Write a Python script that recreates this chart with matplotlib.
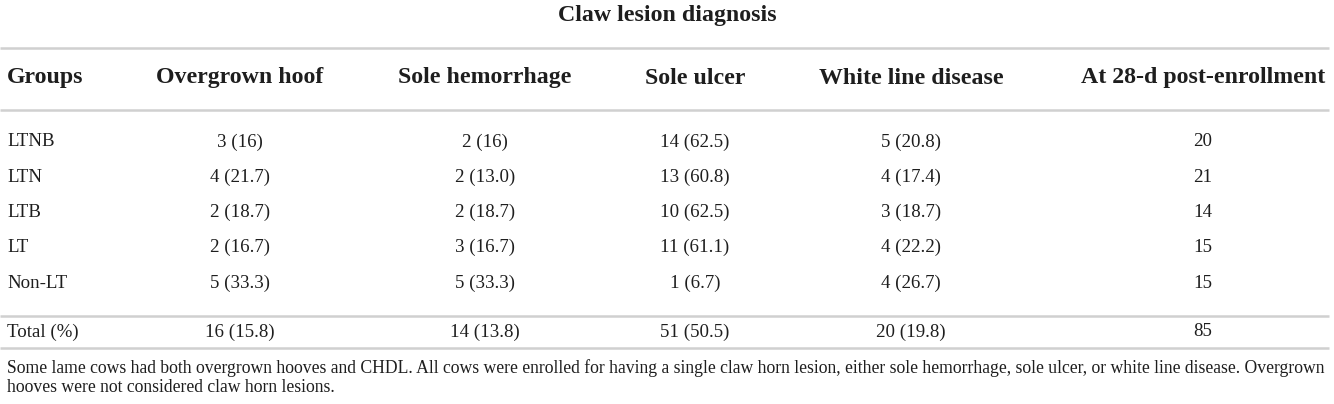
import matplotlib
matplotlib.use("Agg")
import matplotlib.pyplot as plt

title = "Claw lesion diagnosis"
headers = ["Groups", "Overgrown hoof", "Sole hemorrhage", "Sole ulcer",
           "White line disease", "At 28-d post-enrollment"]
groups = ["LTNB", "LTN", "LTB", "LT", "Non-LT", "Total (%)"]
overgrown = ["3 (16)", "4 (21.7)", "2 (18.7)", "2 (16.7)", "5 (33.3)", "16 (15.8)"]
sole_hem = ["2 (16)", "2 (13.0)", "2 (18.7)", "3 (16.7)", "5 (33.3)", "14 (13.8)"]
sole_ulcer = ["14 (62.5)", "13 (60.8)", "10 (62.5)", "11 (61.1)", "1 (6.7)", "51 (50.5)"]
white_line = ["5 (20.8)", "4 (17.4)", "3 (18.7)", "4 (22.2)", "4 (26.7)", "20 (19.8)"]
at28 = ["20", "21", "14", "15", "15", "85"]
footnote = ("Some lame cows had both overgrown hooves and CHDL. All cows were enrolled for having a single claw horn lesion, "
            "either sole hemorrhage, sole ulcer, or white line disease. Overgrown\nhooves were not considered claw horn lesions.")

W, H = 1334, 404
fig = plt.figure(figsize=(W / 100, H / 100), dpi=100)
ax = fig.add_axes([0, 0, 1, 1])
ax.set_xlim(0, W)
ax.set_ylim(H, 0)
ax.axis("off")

font = "Liberation Serif"
txt = "#1e1e1e"
col_x = [7, 240, 485, 695, 911, 1203]
col_ha = ["left", "center", "center", "center", "center", "center"]
fs_head = 17.2
fs_body = 13.6

ax.text(667, 15, title, ha="center", va="center", fontsize=fs_head, fontweight="bold",
        family=font, color=txt)

line_color = "#d0d0d0"
for y in [48, 110, 316, 348]:
    ax.plot([0, 1329], [y, y], color=line_color, lw=1.8, solid_capstyle="butt")

for x, ha, h in zip(col_x, col_ha, headers):
    ax.text(x, 78, h, ha=ha, va="center", fontsize=fs_head, fontweight="bold",
            family=font, color=txt)

row_y = [142, 177.25, 212.5, 247.75, 283, 332]
columns = [groups, overgrown, sole_hem, sole_ulcer, white_line, at28]
for ci, col in enumerate(columns):
    for ri, val in enumerate(col):
        ax.text(col_x[ci], row_y[ri], val, ha=col_ha[ci], va="center", fontsize=fs_body,
                family=font, color=txt)

ax.text(7, 377.5, footnote, ha="left", va="center", fontsize=12.7, family=font,
        color=txt, linespacing=1.1)

fig.savefig("out.png", dpi=100)
